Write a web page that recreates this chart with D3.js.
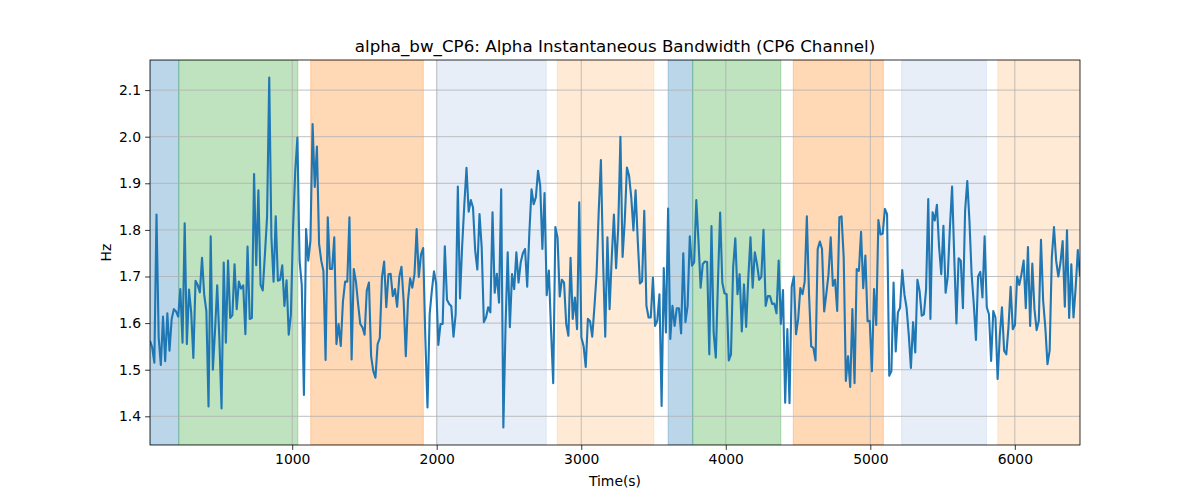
<!DOCTYPE html>
<html>
<head>
<meta charset="utf-8">
<script src="https://cdn.jsdelivr.net/npm/d3@7"></script>
<style>
  html, body { margin: 0; padding: 0; background: #ffffff; }
  svg text { font-family: "DejaVu Sans", sans-serif; fill: #000; }
</style>
</head>
<body>
<svg id="chart" width="1200" height="500"></svg>
<script>
// ---- data ----
const titleText = "alpha_bw_CP6: Alpha Instantaneous Bandwidth (CP6 Channel)";
const xLabel = "Time(s)";
const yLabel = "Hz";
const xTicks = [1000, 2000, 3000, 4000, 5000, 6000];
const yTicks = [1.4, 1.5, 1.6, 1.7, 1.8, 1.9, 2.0, 2.1];
const timeStart = 16;
const timeStep = 15;

const regionStart = [16, 215, 1128, 2001, 2834, 3601, 3771, 4467, 5217, 5882];
const regionEnd   = [215, 1039, 1907, 2758, 3502, 3771, 4381, 5090, 5804, 6451];
const regionColor = ["#1f77b4", "#2ca02c", "#ff7f0e", "#aec7e8", "#ffbb78",
                     "#1f77b4", "#2ca02c", "#ff7f0e", "#aec7e8", "#ffbb78"];

const bandwidth = [
  1.562,1.548,1.515,1.833,1.569,1.510,1.614,1.518,1.621,1.541,
  1.609,1.630,1.625,1.614,1.673,1.558,1.814,1.555,1.672,1.623,
  1.525,1.691,1.682,1.666,1.740,1.661,1.626,1.421,1.786,1.500,
  1.584,1.681,1.566,1.417,1.730,1.558,1.734,1.611,1.617,1.726,
  1.630,1.689,1.674,1.681,1.576,1.764,1.609,1.611,1.920,1.724,
  1.885,1.682,1.670,1.747,1.827,2.127,
  1.784,1.689,1.829,1.691,1.693,1.724,1.637,1.692,1.575,1.619,
  1.805,1.927,1.998,1.734,1.682,1.446,1.802,1.734,1.777,2.027,
  1.892,1.979,1.770,1.734,1.712,1.521,1.827,1.716,1.716,1.784,
  1.555,1.598,1.551,1.646,1.689,1.689,1.827,1.522,1.716,1.689,
  1.641,1.598,1.591,1.575,1.670,1.687,1.529,1.497,1.483,1.555,
  1.568,1.698,1.732,1.634,1.705,1.706,
  1.658,1.673,1.635,1.699,1.721,1.648,1.529,1.648,1.696,1.676,
  1.705,1.802,1.699,1.747,1.761,1.569,1.419,1.619,1.669,1.711,
  1.685,1.553,1.598,1.598,1.765,1.650,1.641,1.636,1.571,1.619,
  1.893,1.653,1.766,1.855,1.933,1.839,1.864,1.848,1.756,1.715,
  1.834,1.763,1.602,1.612,1.634,1.623,1.838,1.665,1.706,1.644,
  1.887,1.376,1.591,1.752,1.591,
  1.705,1.673,1.752,1.687,1.730,1.750,1.759,1.678,1.795,1.887,
  1.855,1.870,1.927,1.895,1.759,1.879,1.660,1.713,1.584,1.471,
  1.806,1.783,1.657,1.693,1.687,1.598,1.573,1.740,1.609,1.655,
  1.587,1.859,1.569,1.551,1.506,1.609,1.604,1.571,1.634,1.705,
  1.841,1.950,1.734,1.571,1.784,1.630,1.741,1.833,1.718,1.806,
  2.000,1.742,1.820,1.934,1.916,
  1.870,1.799,1.885,1.777,1.685,1.690,1.841,1.637,1.612,1.612,
  1.698,1.594,1.605,1.662,1.422,1.718,1.580,1.846,1.566,1.637,
  1.594,1.632,1.632,1.578,1.750,1.602,1.637,1.786,1.723,1.730,
  1.864,1.777,1.676,1.727,1.732,1.731,1.533,1.808,1.580,1.526,
  1.690,1.837,1.687,1.664,1.662,1.520,1.533,1.720,1.782,1.662,
  1.705,1.582,1.683,1.592,1.698,1.784,
  1.676,1.752,1.727,1.693,1.699,1.800,1.637,1.658,1.658,1.641,
  1.642,1.621,1.734,1.598,1.671,1.429,1.587,1.428,1.678,1.700,
  1.576,1.609,1.675,1.662,1.689,1.829,1.662,1.550,1.547,1.520,
  1.759,1.775,1.759,1.625,1.664,1.705,1.784,1.680,1.693,1.626,
  1.827,1.829,1.741,1.476,1.529,1.463,1.630,1.471,1.716,1.712,
  1.796,1.675,1.745,1.604,1.605,
  1.497,1.673,1.596,1.821,1.790,1.792,1.845,1.834,1.487,1.497,
  1.687,1.539,1.623,1.633,1.714,1.662,1.633,1.576,1.504,1.602,
  1.537,1.693,1.669,1.616,1.619,1.673,1.866,1.609,1.838,1.820,
  1.854,1.763,1.705,1.809,1.665,1.700,1.806,1.893,1.741,1.599,
  1.739,1.734,1.632,1.841,1.905,1.820,1.705,1.641,1.564,1.700,
  1.710,1.655,1.786,1.634,1.619,
  1.519,1.626,1.612,1.480,1.573,1.634,1.541,1.533,1.591,1.678,
  1.587,1.596,1.700,1.682,1.705,1.734,1.632,1.763,1.594,1.728,
  1.630,1.585,1.605,1.779,1.648,1.591,1.512,1.541,1.741,1.806,
  1.734,1.700,1.730,1.776,1.635,1.799,1.611,1.726,1.612,1.676,
  1.757,1.700
];
const times = bandwidth.map((_, i) => timeStart + i * timeStep);

// ---- layout ----
const W = 1200, H = 500;
const plot = { left: 150, right: 1080, top: 60, bottom: 445 };

const svg = d3.select("#chart");
svg.append("rect").attr("width", W).attr("height", H).attr("fill", "#fff");

const x = d3.scaleLinear().domain(d3.extent(times)).range([plot.left, plot.right]);
const yMin = d3.min(bandwidth), yMax = d3.max(bandwidth);
const pad = (yMax - yMin) * 0.05;
const y = d3.scaleLinear().domain([yMin - pad, yMax + pad]).range([plot.bottom, plot.top]);

const clipId = "plotclip";
svg.append("clipPath").attr("id", clipId).append("rect")
  .attr("x", plot.left).attr("y", plot.top)
  .attr("width", plot.right - plot.left).attr("height", plot.bottom - plot.top);

const g = svg.append("g").attr("clip-path", `url(#${clipId})`);

// shaded regions
g.selectAll("rect.region").data(regionStart).join("rect")
  .attr("class", "region")
  .attr("x", (d, i) => x(d))
  .attr("width", (d, i) => x(regionEnd[i]) - x(d))
  .attr("y", plot.top)
  .attr("height", plot.bottom - plot.top)
  .attr("fill", (d, i) => regionColor[i])
  .attr("fill-opacity", 0.3)
  .attr("stroke", (d, i) => regionColor[i])
  .attr("stroke-opacity", 0.3)
  .attr("stroke-width", 1);

// grid
g.selectAll("line.vgrid").data(xTicks).join("line")
  .attr("x1", d => x(d)).attr("x2", d => x(d))
  .attr("y1", plot.top).attr("y2", plot.bottom)
  .attr("stroke", "#b0b0b0").attr("stroke-width", 0.8);
g.selectAll("line.hgrid").data(yTicks).join("line")
  .attr("x1", plot.left).attr("x2", plot.right)
  .attr("y1", d => y(d)).attr("y2", d => y(d))
  .attr("stroke", "#b0b0b0").attr("stroke-width", 0.8);

// line
const line = d3.line().x((d, i) => x(times[i])).y(d => y(d));
g.append("path").datum(bandwidth)
  .attr("d", line)
  .attr("fill", "none")
  .attr("stroke", "#1f77b4")
  .attr("stroke-width", 2.1)
  .attr("stroke-linejoin", "round")
  .attr("stroke-linecap", "butt");

// axes
const xAxis = d3.axisBottom(x).tickValues(xTicks).tickFormat(d3.format("d"))
  .tickSize(4.9).tickPadding(4);
const yAxis = d3.axisLeft(y).tickValues(yTicks).tickFormat(d3.format(".1f"))
  .tickSize(4.9).tickPadding(4);

const gx = svg.append("g").attr("transform", `translate(0,${plot.bottom})`).call(xAxis);
const gy = svg.append("g").attr("transform", `translate(${plot.left},0)`).call(yAxis);
[gx, gy].forEach(a => {
  a.select(".domain").remove();
  a.selectAll(".tick line").attr("stroke", "#000").attr("stroke-width", 0.8);
  a.selectAll(".tick text").attr("font-size", "13.9px")
    .attr("font-family", "'DejaVu Sans', sans-serif").attr("fill", "#000");
});

// frame
svg.append("rect")
  .attr("x", plot.left).attr("y", plot.top)
  .attr("width", plot.right - plot.left).attr("height", plot.bottom - plot.top)
  .attr("fill", "none").attr("stroke", "#000").attr("stroke-width", 0.8);

// texts
svg.append("text").attr("x", (plot.left + plot.right) / 2).attr("y", 52)
  .attr("text-anchor", "middle").attr("font-size", "16.7px").text(titleText);
svg.append("text").attr("x", (plot.left + plot.right) / 2).attr("y", 486)
  .attr("text-anchor", "middle").attr("font-size", "13.9px").text(xLabel);
svg.append("text").attr("transform", `translate(111,${(plot.top + plot.bottom) / 2}) rotate(-90)`)
  .attr("text-anchor", "middle").attr("font-size", "13.9px").text(yLabel);
</script>
</body>
</html>
